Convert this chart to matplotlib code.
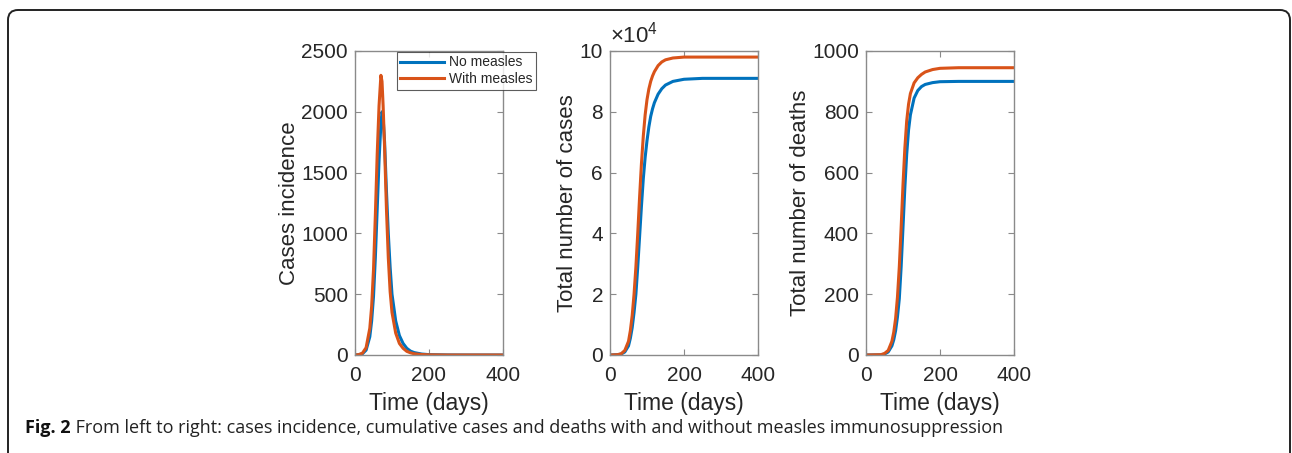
import matplotlib
matplotlib.use("Agg")
import matplotlib.pyplot as plt
from matplotlib.patches import FancyBboxPatch
from matplotlib.transforms import IdentityTransform

plt.rcParams['font.family'] = ['Liberation Sans', 'DejaVu Sans']
plt.rcParams['mathtext.fontset'] = 'custom'
plt.rcParams['mathtext.rm'] = 'Liberation Sans'
plt.rcParams['mathtext.it'] = 'Liberation Sans'

# ---------------- data ----------------
t_inc = [0, 10, 20, 30, 40, 45, 50, 55, 60, 65, 70, 73, 76, 80, 85, 90, 95, 100,
         110, 120, 130, 140, 150, 160, 180, 200, 250, 300, 400]
inc_no = [0, 2, 10, 40, 150, 280, 480, 800, 1200, 1600, 1900, 2000, 1950, 1750, 1350,
          1000, 720, 500, 280, 160, 95, 55, 32, 20, 8, 3, 0.5, 0, 0]
inc_with = [0, 3, 15, 60, 220, 400, 700, 1150, 1650, 2050, 2300, 2250, 2050, 1700, 1200,
            800, 520, 350, 180, 95, 55, 30, 18, 10, 4, 1.5, 0, 0, 0]

t_cum = [0, 20, 30, 40, 50, 55, 60, 65, 70, 75, 80, 85, 90, 95, 100, 105, 110, 115,
         120, 130, 140, 150, 170, 200, 250, 400]
cases_no = [0, 0.01, 0.03, 0.10, 0.30, 0.55, 0.90, 1.40, 2.00, 2.90, 3.90, 4.90, 5.80,
            6.50, 7.05, 7.50, 7.85, 8.10, 8.30, 8.58, 8.76, 8.88, 9.00, 9.07, 9.10, 9.10]
cases_with = [0, 0.01, 0.04, 0.15, 0.45, 0.80, 1.30, 2.00, 2.90, 4.00, 5.20, 6.30, 7.20,
              7.90, 8.40, 8.75, 9.00, 9.18, 9.32, 9.52, 9.64, 9.71, 9.77, 9.80, 9.80, 9.80]

t_dth = [0, 40, 50, 60, 70, 75, 80, 85, 90, 95, 100, 105, 110, 115, 120, 130, 140,
         150, 160, 180, 200, 250, 400]
deaths_no = [0, 0.5, 3, 10, 30, 50, 80, 125, 185, 290, 420, 550, 660, 740, 790, 845,
             870, 883, 890, 896, 899, 900, 900]
deaths_with = [0, 1, 5, 15, 45, 75, 120, 190, 290, 420, 560, 680, 770, 825, 860, 895,
               912, 923, 931, 939, 943, 945, 945]

series_labels = ["No measles", "With measles"]
x_label = "Time (days)"
y_labels = ["Cases incidence", "Total number of cases", "Total number of deaths"]
x_ticks = [0, 200, 400]
y_ticks = [[0, 500, 1000, 1500, 2000, 2500], [0, 2, 4, 6, 8, 10],
           [0, 200, 400, 600, 800, 1000]]
caption_bold = "Fig. 2"
caption_text = " From left to right: cases incidence, cumulative cases and deaths with and without measles immunosuppression"

# ---------------- figure ----------------
W, H = 1292, 453
fig = plt.figure(figsize=(W / 100, H / 100), dpi=100)
fig.patch.set_facecolor('white')

blue = '#0072BD'
orange = '#D95319'
spine_c = '#8a8a8a'
text_c = '#262626'

lefts = [355, 610, 866]
ax_w = 148
ax_top, ax_bot = 51, 355
axes = []
for L in lefts:
    ax = fig.add_axes([L / W, 1 - ax_bot / H, ax_w / W, (ax_bot - ax_top) / H])
    axes.append(ax)

data = [(t_inc, inc_no, inc_with), (t_cum, cases_no, cases_with), (t_dth, deaths_no, deaths_with)]
for i, (ax, (tt, a, b)) in enumerate(zip(axes, data)):
    ax.plot(tt, a, color=blue, lw=2.2, label=series_labels[0])
    ax.plot(tt, b, color=orange, lw=2.2, label=series_labels[1])
    ax.set_xlim(0, 400)
    ax.set_ylim(y_ticks[i][0], y_ticks[i][-1])
    ax.set_xticks(x_ticks)
    ax.set_yticks(y_ticks[i])
    ax.tick_params(direction='in', length=4, width=0.8, color=spine_c,
                   top=True, right=True, labelsize=15, labelcolor=text_c)
    ax.tick_params(axis='x', pad=8)
    ax.tick_params(axis='y', pad=5)
    for s in ax.spines.values():
        s.set_color(spine_c)
        s.set_linewidth(1.0)
    ax.set_xlabel(x_label, fontsize=16.5, color=text_c, labelpad=5)
    ax.set_ylabel(y_labels[i], fontsize=16, color=text_c, labelpad=1)

axes[1].text(0.0, 1.01, r"$\times10^{4}$", transform=axes[1].transAxes,
             fontsize=16, color=text_c, ha='left', va='bottom')

leg = axes[0].legend(loc='upper left', bbox_to_anchor=(397 / W, 1 - 52 / H),
                     bbox_transform=fig.transFigure, fontsize=10, frameon=True,
                     fancybox=False, edgecolor='#333333', handlelength=3.1,
                     borderpad=0.25, labelspacing=0.2, handletextpad=0.4,
                     borderaxespad=0)
leg.get_frame().set_linewidth(0.8)
for txt in leg.get_texts():
    txt.set_color(text_c)

# outer rounded frame
frame = FancyBboxPatch((8, -30), 1282, 30 + (H - 10), boxstyle="round,pad=0,rounding_size=10",
                       transform=IdentityTransform(), facecolor='none',
                       edgecolor='#222222', linewidth=1.4, clip_on=False)
fig.patches.append(frame)

# caption
cap_y = 1 - 428 / H
t1 = fig.text(25 / W, cap_y, caption_bold, fontsize=13, fontweight='bold',
              family=['Open Sans', 'DejaVu Sans'], color='#111111', va='center', ha='left')
fig.canvas.draw()
bb = t1.get_window_extent()
fig.text(bb.x1 / W, cap_y, caption_text, fontsize=13,
         family=['Open Sans', 'DejaVu Sans'], color='#222222', va='center', ha='left')

fig.savefig('out.png', dpi=100, facecolor='white')
